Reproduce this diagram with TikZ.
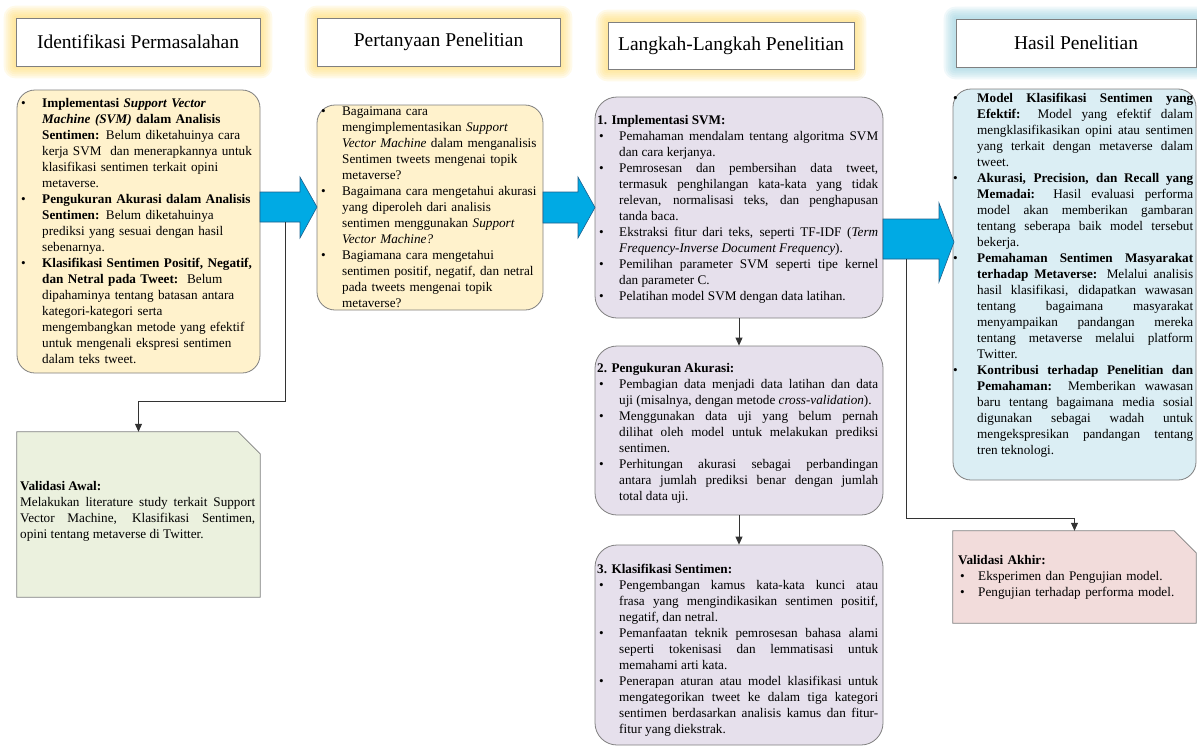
\documentclass[tikz,border=0pt]{standalone}
\usepackage{fontspec}
\setmainfont{Liberation Serif}
\usetikzlibrary{arrows.meta,calc,backgrounds}

\definecolor{boxline}{HTML}{7F7F7F}
\definecolor{fillYellow}{HTML}{FFF2CC}
\definecolor{fillLav}{HTML}{E6E0EC}
\definecolor{fillBlue}{HTML}{DBEEF4}
\definecolor{fillGreen}{HTML}{EBF1DE}
\definecolor{fillPink}{HTML}{F2DCDB}
\definecolor{arrowblue}{HTML}{00AAE4}
\definecolor{arrowline}{HTML}{1F5F8B}
\definecolor{glowY}{HTML}{FFD966}
\definecolor{glowB}{HTML}{92CDDC}

\tolerance=9999
\hbadness=10000
\hyphenpenalty=10000
\exhyphenpenalty=10000

% bullet paragraph with hanging indent
\newcommand{\bitem}[2][22pt]{\hangindent=#1\hangafter=1\noindent\hbox to #1{\hskip2pt\textbullet\hfil}\ignorespaces#2\par}

\begin{document}
\begin{tikzpicture}[x=1pt,y=-1pt,
  head/.style={draw=boxline,fill=white,line width=0.9pt,minimum height=48pt,inner sep=0pt,font=\fontsize{19.5}{22}\selectfont},
  box/.style={draw=boxline,line width=0.8pt,rounded corners=18pt,inner sep=0pt},
  note/.style={inner sep=0pt},
  txt/.style={inner sep=0pt,anchor=base west,align=justify,font=\fontsize{13.2}{16}\selectfont},
  blockarrow/.style={fill=arrowblue,draw=arrowline,line width=0.6pt},
  conn/.style={draw=black!80,line width=0.8pt,-{Triangle[width=7pt,length=8pt]}}]
\useasboundingbox (0,0) rectangle (1197,747);

% headers
\node[head,minimum width=244pt] (h1) at (138,42) {Identifikasi Permasalahan};
\node[head,minimum width=243pt] (h2) at (438.5,42) {Pertanyaan Penelitian};
\node[head,minimum width=246pt,minimum height=47pt] (h3) at (731,45.5) {Langkah-Langkah Penelitian};
\node[head,minimum width=240pt] (h4) at (1076,43) {Hasil Penelitian};

% boxes
\node[box,fill=fillYellow,minimum width=243pt,minimum height=283pt] (b1) at (138.5,231.5) {};
\node[box,fill=fillYellow,minimum width=226pt,minimum height=205pt] (b2) at (430,207.5) {};
\node[box,fill=fillLav,rounded corners=22pt,minimum width=288pt,minimum height=221pt] (b3) at (739,207.5) {};
\node[box,fill=fillLav,rounded corners=22pt,minimum width=288pt,minimum height=169pt] (b4) at (739,430.5) {};
\node[box,fill=fillLav,rounded corners=22pt,minimum width=288pt,minimum height=200pt] (b5) at (739,645) {};
\node[box,fill=fillBlue,minimum width=243pt,minimum height=391pt] (b6) at (1074.5,284.5) {};
\node[note,minimum width=243pt,minimum height=165pt] (valawal) at (138.5,514.5) {};
\node[note,minimum width=243pt,minimum height=92pt] (valakhir) at (1074.5,577) {};

\begin{scope}[on background layer]
\foreach \n/\c in {h1/glowY,h2/glowY,h3/glowY,h4/glowB}
  \foreach \s in {12,10,8,6,4,2}
    \fill[\c,opacity=0.14,rounded corners=\s pt] ($(\n.north west)+(-\s,-\s)$) rectangle ($(\n.south east)+(\s,\s)$);
\draw[fill=fillGreen,draw=boxline,line width=0.8pt] (valawal.south west) -- (valawal.north west) -- ($(valawal.north east)+(-22,0)$) -- ($(valawal.north east)+(0,22)$) -- (valawal.south east) -- cycle;
\draw[fill=fillPink,draw=boxline,line width=0.8pt] (valakhir.south west) -- (valakhir.north west) -- ($(valakhir.north east)+(-22,0)$) -- ($(valakhir.north east)+(0,22)$) -- (valakhir.south east) -- cycle;
\end{scope}

% block arrows
\draw[blockarrow] (260,192) -- (300,192) -- (300,177) -- (317,207) -- (300,238) -- (300,222) -- (260,222) -- cycle;
\draw[blockarrow] (543,192) -- (578,192) -- (578,177) -- (595,207.5) -- (578,238) -- (578,223) -- (543,223) -- cycle;
\draw[blockarrow] (883,219) -- (939,219) -- (939,203) -- (954,242) -- (939,282) -- (939,259) -- (883,259) -- cycle;
\coordinate (c1) at (285,222);
\coordinate (c2) at (906,259);

% texts
\node[txt,text width=262pt,align=left] (t1) at (19,107) {%
\bitem[23pt]{\textbf{Implementasi \textit{Support Vector}\newline \textit{Machine (SVM)} dalam Analisis\newline Sentimen:} Belum diketahuinya cara\newline kerja SVM\ \ dan menerapkannya untuk\newline klasifikasi sentimen terkait opini\newline metaverse.}
\bitem[23pt]{\textbf{Pengukuran Akurasi dalam Analisis\newline Sentimen:} Belum diketahuinya\newline prediksi yang sesuai dengan hasil\newline sebenarnya.}
\bitem[23pt]{\textbf{Klasifikasi Sentimen Positif, Negatif,\newline dan Netral pada Tweet:}\ \ Belum\newline dipahaminya tentang batasan antara\newline kategori-kategori serta\newline mengembangkan metode yang efektif\newline untuk mengenali ekspresi sentimen\newline dalam teks tweet.}};

\node[txt,text width=250pt,align=left] (t2) at (319,115) {%
\bitem[23pt]{Bagaimana cara\newline mengimplementasikan \textit{Support}\newline \textit{Vector Machine} dalam menganalisis\newline Sentimen tweets mengenai topik\newline metaverse?}
\bitem[23pt]{Bagaimana cara mengetahui akurasi\newline yang diperoleh dari analisis\newline sentimen menggunakan \textit{Support}\newline \textit{Vector Machine?}}
\bitem[23pt]{Bagiamana cara mengetahui\newline sentimen positif, negatif, dan netral\newline pada tweets mengenai topik\newline metaverse?}};

\node[txt,text width=281pt] (t3) at (597,124) {%
\textbf{1. Implementasi SVM:}\par
\bitem{Pemahaman mendalam tentang algoritma SVM\linebreak dan cara kerjanya.}
\bitem{Pemrosesan dan pembersihan data tweet,\linebreak termasuk penghilangan kata-kata yang tidak\linebreak relevan, normalisasi teks, dan penghapusan\linebreak tanda baca.}
\bitem{Ekstraksi fitur dari teks, seperti TF-IDF (\textit{Term}\linebreak \textit{Frequency-Inverse Document Frequency}).}
\bitem{Pemilihan parameter SVM seperti tipe kernel\linebreak dan parameter C.}
\bitem{Pelatihan model SVM dengan data latihan.}};

\node[txt,text width=281pt] (t4) at (597,372) {%
\textbf{2. Pengukuran Akurasi:}\par
\bitem{Pembagian data menjadi data latihan dan data\linebreak uji (misalnya, dengan metode \textit{cross-validation}).}
\bitem{Menggunakan data uji yang belum pernah\linebreak dilihat oleh model untuk melakukan prediksi\linebreak sentimen.}
\bitem{Perhitungan akurasi sebagai perbandingan\linebreak antara jumlah prediksi benar dengan jumlah\linebreak total data uji.}};

\node[txt,text width=281pt] (t5) at (597,573) {%
\textbf{3. Klasifikasi Sentimen:}\par
\bitem{Pengembangan kamus kata-kata kunci atau\linebreak frasa yang mengindikasikan sentimen positif,\linebreak negatif, dan netral.}
\bitem{Pemanfaatan teknik pemrosesan bahasa alami\linebreak seperti tokenisasi dan lemmatisasi untuk\linebreak memahami arti kata.}
\bitem{Penerapan aturan atau model klasifikasi untuk\linebreak mengategorikan tweet ke dalam tiga kategori\linebreak sentimen berdasarkan analisis kamus dan fitur-\linebreak fitur yang diekstrak.}};

\node[txt,text width=242pt] (t6) at (951,102) {%
\bitem[26pt]{\textbf{Model Klasifikasi Sentimen yang\linebreak Efektif:} Model yang efektif dalam\linebreak mengklasifikasikan opini atau sentimen\linebreak yang terkait dengan metaverse dalam\linebreak tweet.}
\bitem[26pt]{\textbf{Akurasi, Precision, dan Recall yang\linebreak Memadai:} Hasil evaluasi performa\linebreak model akan memberikan gambaran\linebreak tentang seberapa baik model tersebut\linebreak bekerja.}
\bitem[26pt]{\textbf{Pemahaman Sentimen Masyarakat\linebreak terhadap Metaverse:} Melalui analisis\linebreak hasil klasifikasi, didapatkan wawasan\linebreak tentang bagaimana masyarakat\linebreak menyampaikan pandangan mereka\linebreak tentang metaverse melalui platform\linebreak Twitter.}
\bitem[26pt]{\textbf{Kontribusi terhadap Penelitian dan\linebreak Pemahaman:} Memberikan wawasan\linebreak baru tentang bagaimana media sosial\linebreak digunakan sebagai wadah untuk\linebreak mengekspresikan pandangan tentang\linebreak tren teknologi.}};

\node[txt,text width=235pt] (t7) at (20,490) {%
\textbf{Validasi Awal:}\par
Melakukan literature study terkait Support\linebreak Vector Machine, Klasifikasi Sentimen,\linebreak opini tentang metaverse di Twitter.\par};

\node[txt,text width=230pt,align=left] (t8) at (958,564) {%
\textbf{Validasi Akhir:}\par
\bitem[20pt]{Eksperimen dan Pengujian model.}
\bitem[20pt]{Pengujian terhadap performa model.}};

% connectors
\draw[conn] (b3) -- (b4);
\draw[conn] (b4) -- (b5);
\draw[conn] (c1) |- ($(valawal.north)+(0,-30)$) -- (valawal.north);
\draw[conn] (c2) |- ($(valakhir.north)+(0,-12)$) -- (valakhir.north);
\end{tikzpicture}
\end{document}
